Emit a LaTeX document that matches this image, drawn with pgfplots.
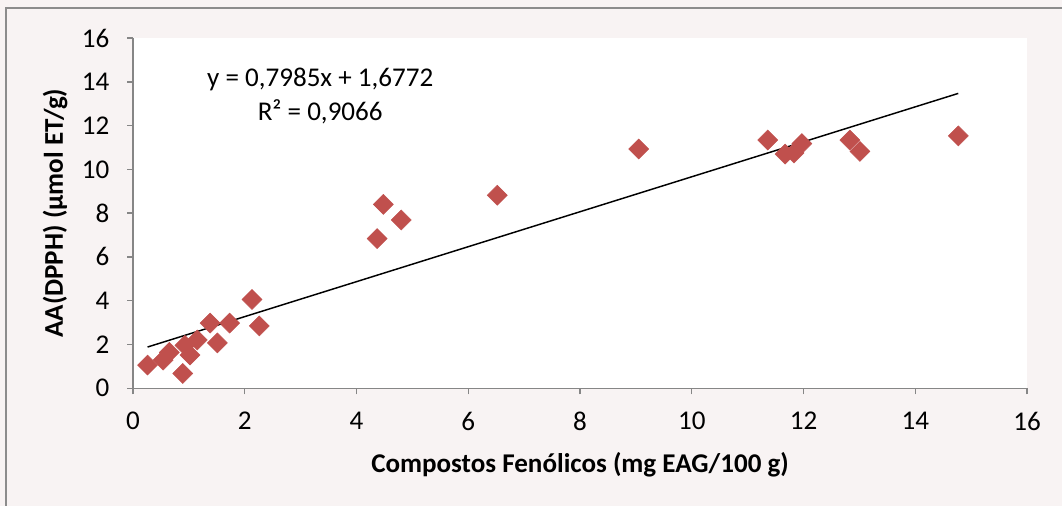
\documentclass[border=0pt]{standalone}
\usepackage{fontspec}
\setmainfont{Carlito}
\usepackage{pgfplots}
\pgfplotsset{compat=1.18}
\definecolor{bgpink}{RGB}{248,243,243}
\definecolor{mk}{RGB}{192,80,77}
\definecolor{axgray}{RGB}{134,134,134}
\definecolor{framegray}{RGB}{140,140,140}
\begin{document}
\begin{tikzpicture}
\useasboundingbox (0,0) rectangle (796.5pt,379.5pt);
\fill[bgpink] (0,0) rectangle (796.5pt,379.5pt);
\draw[framegray, line width=1.5pt] (4.5pt,-2pt) -- (4.5pt,373.5pt) -- (800pt,373.5pt);
\begin{axis}[
  at={(99.75pt,88.275pt)}, anchor=south west,
  scale only axis, width=670.5pt, height=262.7pt,
  xmin=0, xmax=16, ymin=0, ymax=16,
  xtick={0,2,...,16}, ytick={0,2,...,16},
  axis x line*=bottom, axis y line*=left,
  axis line style={axgray, line width=1.1pt},
  tick style={axgray, line width=1.1pt},
  major tick length=4.5pt,
  tick align=outside,
  axis background/.style={fill=white},
  /pgf/number format/assume math mode=true,
  ticklabel style={font=\fontsize{20.3}{22}\selectfont, text=black},
  xticklabel style={yshift=-10pt},
  yticklabel style={xshift=-9.75pt},
  xlabel={Compostos Fenólicos (mg EAG/100 g)},
  ylabel={AA(DPPH) (µmol ET/g)},
  label style={font=\bfseries\fontsize{20.3}{22}\selectfont},
  xlabel style={at={(axis description cs:0.5,-0.219)}, anchor=center},
  ylabel style={at={(axis description cs:-0.0872,0.5)}, anchor=center},
  clip=false,
]
\addplot[only marks, mark=square*, mark size=5.3pt, mark options={rotate=45, fill=mk, draw=mk}]
coordinates {
(0.26,1.06) (0.54,1.29) (0.65,1.64) (0.89,0.68) (0.93,1.96) (1.02,1.52)
(1.15,2.21) (1.38,2.98) (1.51,2.07) (1.73,2.98) (2.13,4.06) (2.26,2.85)
(4.37,6.84) (4.48,8.40) (4.80,7.69) (6.52,8.82) (9.05,10.93) (11.36,11.34)
(11.67,10.70) (11.83,10.75) (11.97,11.18) (12.83,11.34) (13.01,10.82) (14.77,11.53)
};
\addplot[black, line width=1.1pt] coordinates {(0.26,1.8848) (14.77,13.4710)};
\node[align=center, font=\fontsize{20.3}{25}\selectfont] at (axis cs:3.35,13.35) {y = 0,7985x + 1,6772\\R² = 0,9066};
\end{axis}
\end{tikzpicture}
\end{document}
